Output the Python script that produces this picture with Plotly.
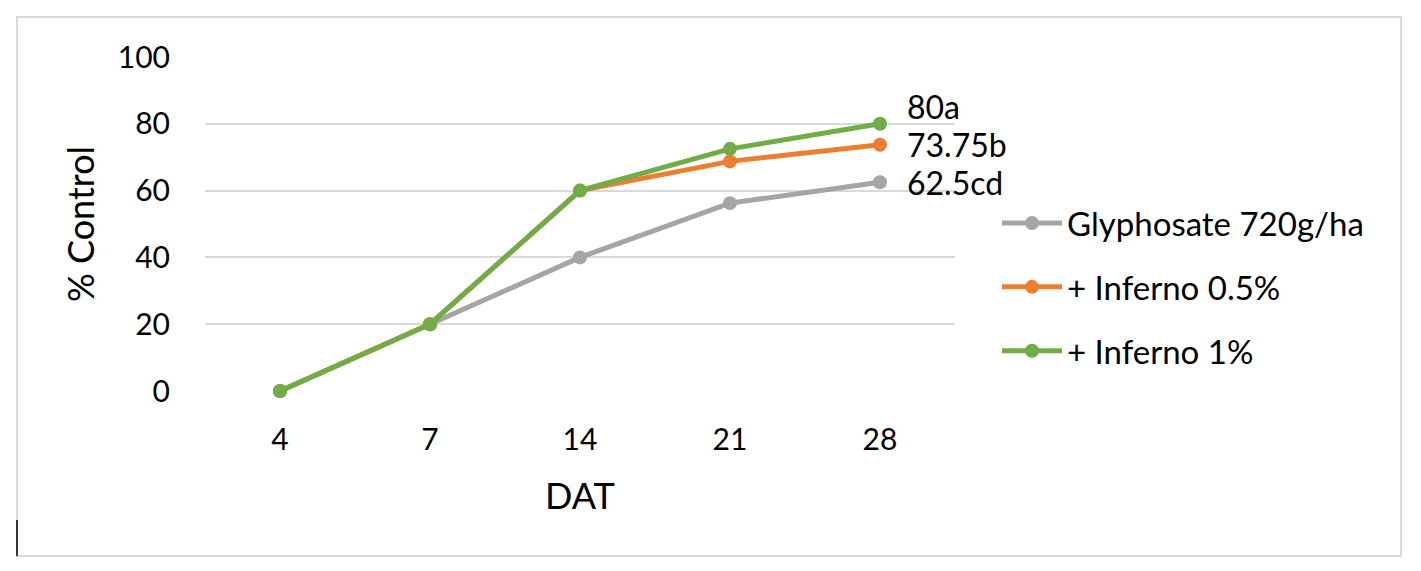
import plotly.graph_objects as go

categories = ["4", "7", "14", "21", "28"]
series_names = ["Glyphosate 720g/ha", "+ Inferno 0.5%", "+ Inferno 1%"]
glyphosate = [0, 20, 40, 56.25, 62.5]
inferno_05 = [0, 20, 60, 68.75, 73.75]
inferno_1 = [0, 20, 60, 72.5, 80]
end_labels = ["62.5cd", "73.75b", "80a"]
y_ticks = [0, 20, 40, 60, 80, 100]

colors = ["#A5A5A5", "#ED7D31", "#70AD47"]
series = [glyphosate, inferno_05, inferno_1]

W, H = 1421, 571
OFF = 8  # page body margin
L, R, T, B = 205 - OFF, 955 - OFF, 57 - OFF, 391 - OFF

FONT = "Lato"

fig = go.Figure()
for i, (name, vals, c) in enumerate(zip(series_names, series, colors)):
    fig.add_trace(go.Scatter(
        x=list(range(len(categories))), y=vals, name=name,
        mode="lines+markers",
        line=dict(color=c, width=5),
        marker=dict(color=c, size=14),
        legendgroup=f"g{i}",
        hoverinfo="skip",
        cliponaxis=False,
    ))

# end-point labels
label_yshift = [0, 0, 17]
for i, (vals, lab) in enumerate(zip(series, end_labels)):
    fig.add_annotation(
        x=len(categories) - 1, y=vals[-1], text=lab, showarrow=False,
        xanchor="left", yanchor="middle", xshift=25, yshift=label_yshift[i],
        font=dict(family=FONT, size=32, color="#000000"),
    )

def px_x(p):
    return (p - OFF - L) / (R - L)

def px_y(p):
    return (B - (p - OFF)) / (B - T)

# chart border
fig.add_shape(type="rect", xref="paper", yref="paper",
              x0=px_x(17), x1=px_x(1401), y0=px_y(556), y1=px_y(17),
              line=dict(color="#D9D9D9", width=2), layer="below")
fig.add_shape(type="line", xref="paper", yref="paper",
              x0=px_x(17), x1=px_x(17), y0=px_y(556), y1=px_y(520),
              line=dict(color="#000000", width=1.5))

fig.update_layout(
    width=W, height=H,
    margin=dict(l=L, r=W - R, t=T, b=H - B, pad=0),
    paper_bgcolor="white", plot_bgcolor="white",
    font=dict(family=FONT, size=30, color="#000000"),
    showlegend=True,
    legend=dict(
        x=px_x(997), xanchor="left", y=px_y(287), yanchor="middle",
        font=dict(family=FONT, size=33, color="#000000"),
        traceorder="grouped", tracegroupgap=18,
        bgcolor="rgba(0,0,0,0)", itemwidth=60,
    ),
    xaxis=dict(
        tickmode="array", tickvals=list(range(len(categories))), ticktext=categories,
        range=[-0.5, 4.5], showgrid=False, zeroline=False, showline=False,
        ticks="", ticklabelstandoff=28,
        tickfont=dict(family=FONT, size=30),
        title=dict(text="DAT", standoff=28, font=dict(family=FONT, size=36)),
        fixedrange=True,
    ),
    yaxis=dict(
        range=[0, 100], tickvals=y_ticks, showgrid=True, gridcolor="#D9D9D9",
        gridwidth=2, zeroline=False, showline=False, ticks="",
        ticklabelstandoff=34,
        tickfont=dict(family=FONT, size=30),
        title=dict(text="% Control", standoff=12, font=dict(family=FONT, size=36)),
        fixedrange=True,
    ),
)

fig.write_html("out.html")
